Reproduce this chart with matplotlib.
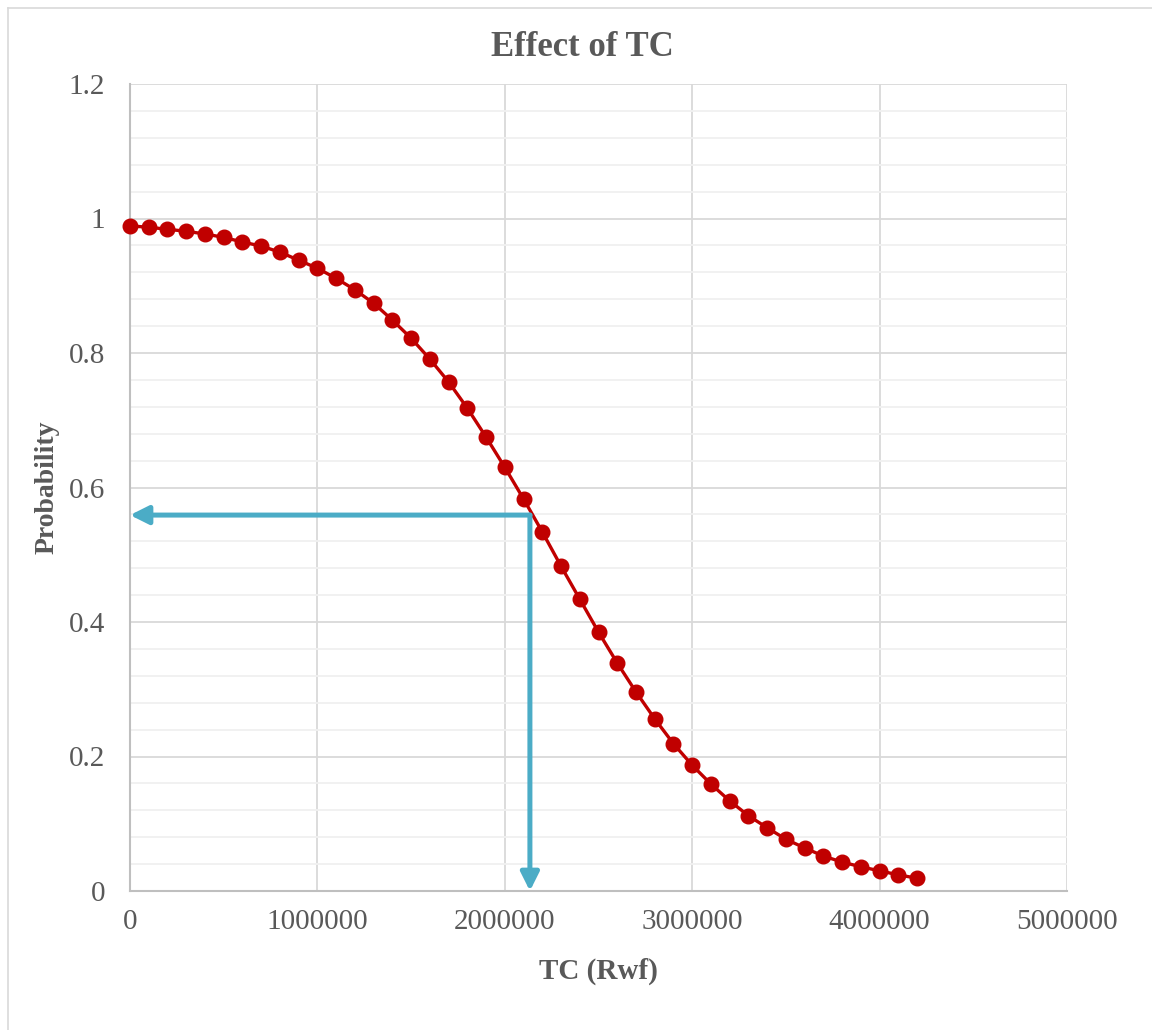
import numpy as np
import matplotlib.pyplot as plt
from matplotlib.ticker import MultipleLocator

# total cost (Rwf) and predicted probability
tc = [i * 100000 for i in range(43)]
prob = [0.989, 0.987, 0.984, 0.981, 0.977, 0.972, 0.965, 0.959, 0.950, 0.938,
        0.926, 0.911, 0.894, 0.874, 0.849, 0.822, 0.791, 0.757, 0.718, 0.675,
        0.630, 0.583, 0.534, 0.483, 0.434, 0.385, 0.339, 0.296, 0.256, 0.219,
        0.187, 0.159, 0.134, 0.112, 0.094, 0.077, 0.064, 0.052, 0.043, 0.036,
        0.030, 0.024, 0.019]

# reading of the curve at the 0.56 level
guide_tc = 2134000
guide_p = 0.559

plt.rcParams['font.family'] = ['Liberation Serif', 'DejaVu Serif']
grey = '#595959'

fig = plt.figure(figsize=(11.52, 10.30), dpi=100)
ax = fig.add_axes([130 / 1152, 1 - 891 / 1030, 937 / 1152, 807 / 1030])

ax.set_xlim(0, 5000000)
ax.set_ylim(0, 1.2)
ax.xaxis.set_major_locator(MultipleLocator(1000000))
ax.yaxis.set_major_locator(MultipleLocator(0.2))
ax.yaxis.set_minor_locator(MultipleLocator(0.04))
ax.grid(which='major', color='#d9d9d9', lw=1.3)
ax.grid(which='minor', axis='y', color='#f0f0f0', lw=1.3)
ax.set_axisbelow(True)
for side in ['top', 'right']:
    ax.spines[side].set_visible(False)
for side in ['left', 'bottom']:
    ax.spines[side].set_color('#bfbfbf')
    ax.spines[side].set_linewidth(1.5)

ax.set_xticks(np.arange(0, 5000001, 1000000))
ax.set_xticklabels([str(v) for v in range(0, 5000001, 1000000)])
ax.set_yticks([0, 0.2, 0.4, 0.6, 0.8, 1.0, 1.2])
ax.set_yticklabels(['0', '0.2', '0.4', '0.6', '0.8', '1', '1.2'])
ax.tick_params(which='both', length=0, labelsize=21, colors=grey, pad=13)
ax.tick_params(axis='y', pad=18)

ax.plot(tc, prob, color='#c00000', lw=2.4, marker='o', ms=10.5,
        mec='#c00000', mfc='#c00000', zorder=3, clip_on=False)

# guide arrows
arrow_kw = dict(arrowstyle='-|>,head_length=1.1,head_width=0.55',
                color='#4bacc6', lw=3.6, shrinkA=0, shrinkB=0)
ax.annotate('', xy=(0, guide_p), xytext=(guide_tc, guide_p), arrowprops=arrow_kw, zorder=4)
ax.annotate('', xy=(guide_tc, 0), xytext=(guide_tc, guide_p), arrowprops=arrow_kw, zorder=4)

fig.text(582 / 1152, 1 - 48 / 1030, 'Effect of TC', fontsize=25, fontweight='bold',
         color=grey, ha='center', va='center')
ax.set_xlabel('TC (Rwf)', fontsize=21, fontweight='bold', color=grey, labelpad=16)
ax.set_ylabel('Probability', fontsize=20, fontweight='bold', color=grey)
ax.yaxis.set_label_coords(-70 / 937, 0.5)

# chart area border
fig.add_artist(plt.Line2D([8 / 1152, 8 / 1152], [0, 1 - 8 / 1030],
                          transform=fig.transFigure, color='#d9d9d9', lw=1.2))
fig.add_artist(plt.Line2D([8 / 1152, 1], [1 - 8 / 1030, 1 - 8 / 1030],
                          transform=fig.transFigure, color='#d9d9d9', lw=1.2))

fig.savefig('out.png', dpi=100, facecolor='white')
